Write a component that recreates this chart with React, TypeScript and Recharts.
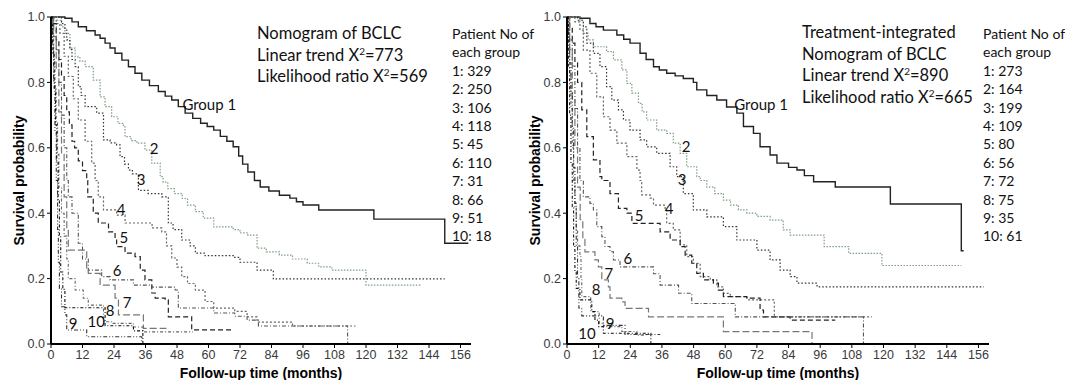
import React from "react";
import { LineChart, Line, XAxis, YAxis, ReferenceDot } from "recharts";

// survival curves, [month, survival probability]
const left1 = [[0,1],[3.4,1],[5.3,0.996],[8,0.985],[10.4,0.97],[13.5,0.958],[16.8,0.945],[18.7,0.935],[20.6,0.92],[22.5,0.905],[24.4,0.889],[27,0.868],[29.5,0.848],[32,0.828],[34.6,0.807],[37.5,0.79],[40.9,0.772],[43.5,0.758],[46,0.746],[48.5,0.726],[51.1,0.706],[54,0.69],[57,0.675],[59.5,0.665],[62,0.654],[64.5,0.635],[67,0.62],[69.4,0.603],[71.5,0.575],[73,0.55],[75,0.526],[77.5,0.5],[79.7,0.48],[83,0.468],[87,0.455],[91,0.446],[93.5,0.435],[96,0.425],[102,0.41],[123,0.382],[150,0.308],[159,0.308]];
const left2 = [[0,1],[2.5,0.99],[4,0.97],[5.3,0.95],[7.2,0.905],[9.2,0.878],[11,0.865],[13,0.848],[16.1,0.807],[18.7,0.756],[20.6,0.726],[23.1,0.695],[25.5,0.675],[27.6,0.664],[28.2,0.634],[30.5,0.622],[32.7,0.614],[35.8,0.593],[38.4,0.553],[41.6,0.512],[42.7,0.495],[44.5,0.475],[47,0.46],[50,0.445],[52,0.425],[55,0.405],[58,0.385],[62,0.358],[69.4,0.35],[72,0.34],[75,0.333],[78.5,0.293],[82,0.282],[87,0.272],[92,0.26],[97.6,0.247],[102,0.236],[107,0.226],[120,0.18],[141,0.18]];
const left3 = [[0,1],[4,0.98],[5.3,0.96],[6,0.93],[7.2,0.9],[8,0.87],[9.2,0.848],[10.4,0.787],[11.5,0.76],[13,0.726],[17.4,0.706],[20,0.624],[22.5,0.615],[25,0.609],[26.3,0.573],[28,0.55],[29.5,0.532],[31,0.52],[33.3,0.47],[37,0.46],[42.2,0.45],[44.7,0.37],[46.5,0.35],[49.8,0.318],[53,0.3],[55,0.278],[58.7,0.27],[69.4,0.265],[72,0.25],[78.5,0.226],[84.7,0.199],[150,0.199]];
const left4 = [[0,1],[2,0.98],[3.4,0.95],[5,0.88],[6.6,0.818],[8.5,0.75],[10.4,0.685],[13,0.62],[15.5,0.553],[16.8,0.5],[18,0.45],[20,0.41],[25,0.394],[28.2,0.37],[38.5,0.355],[42.2,0.343],[44,0.3],[46,0.263],[48,0.235],[49.8,0.206],[52,0.185],[55,0.165],[58.7,0.13],[62,0.11],[70,0.1],[74.7,0.083],[78.5,0.067],[92,0.055],[116,0.055]];
const left5 = [[0,1],[1,0.98],[2,0.93],[3,0.87],[4,0.82],[5,0.76],[6,0.71],[7,0.67],[8,0.62],[9,0.6],[10.4,0.56],[12,0.53],[13.6,0.5],[14,0.45],[16.1,0.4],[18,0.37],[21.9,0.343],[24.4,0.324],[25,0.298],[28.2,0.278],[32,0.267],[34,0.226],[35.8,0.196],[38.4,0.156],[39.7,0.14],[43.5,0.135],[44.7,0.083],[53.6,0.043],[69.4,0.043]];
const left6 = [[0,1],[1,0.97],[2,0.9],[3,0.8],[4,0.7],[5,0.6],[6,0.5],[6.6,0.45],[8,0.4],[10.4,0.308],[12,0.26],[14.2,0.226],[19.3,0.206],[22.5,0.196],[31.4,0.18],[38.4,0.174],[47.3,0.165],[48.5,0.11],[62,0.095],[70,0.085],[74.7,0.073],[79,0.055],[113,0]];
const left7 = [[0,1],[1,0.94],[2,0.84],[3,0.71],[4,0.58],[5,0.45],[6,0.35],[6.6,0.287],[13.6,0.232],[14.2,0.216],[18.7,0.18],[24.4,0.14],[25.7,0.089],[35.2,0.048],[44,0.048]];
const left8 = [[0,1],[0.5,0.95],[1,0.87],[1.5,0.78],[2,0.68],[2.5,0.58],[3,0.48],[4,0.4],[5,0.33],[6,0.26],[6.6,0.2],[9.2,0.165],[12.3,0.14],[14.2,0.119],[20,0.068],[23.1,0.063],[31.4,0.052],[35,0.037],[54,0.037]];
const left9 = [[0,1],[0.5,0.92],[1,0.8],[1.5,0.65],[2,0.5],[2.5,0.35],[2.8,0.25],[3.2,0.17],[4,0.114],[5.3,0.089],[6,0.043],[13.6,0.022],[34.6,0]];
const left10 = [[0,1],[0.7,0.89],[1.2,0.78],[1.7,0.67],[2.2,0.56],[2.7,0.44],[3.2,0.33],[3.7,0.22],[4.5,0.167],[5.3,0.111],[20.6,0.056],[31.4,0.04],[35,0]];

const right1 = [[0,1],[3,1],[4.9,0.996],[8.7,0.98],[11,0.97],[13.8,0.96],[18.9,0.945],[21.5,0.932],[23.9,0.92],[27.7,0.889],[30,0.87],[32.8,0.848],[35,0.838],[37.8,0.828],[41,0.82],[44.1,0.812],[47.9,0.8],[49.2,0.777],[53,0.76],[56.8,0.746],[60.5,0.725],[64.4,0.706],[66.9,0.665],[70.7,0.644],[73.2,0.603],[77,0.578],[79.6,0.553],[84,0.54],[87.2,0.532],[90,0.515],[93.5,0.496],[101.7,0.48],[122.6,0.428],[149.5,0.285],[150.4,0.285]];
const right2 = [[0,1],[3,1],[4.9,0.99],[6.2,0.95],[8,0.93],[10,0.909],[15,0.894],[17.6,0.869],[20.8,0.838],[22.7,0.797],[24.6,0.767],[27.1,0.736],[28.5,0.71],[30.2,0.685],[34,0.654],[37.8,0.644],[40.3,0.614],[42.9,0.583],[45.4,0.542],[49.2,0.512],[50.5,0.5],[53,0.48],[56,0.46],[59.3,0.44],[62,0.425],[65,0.41],[68.2,0.4],[72,0.39],[77,0.379],[82,0.349],[84.6,0.333],[97.5,0.298],[106.8,0.277],[119.4,0.24],[149.5,0.24]];
const right3 = [[0,1],[4,0.99],[6.2,0.97],[7.5,0.92],[10,0.889],[12.5,0.848],[15,0.787],[17,0.746],[19.5,0.716],[21.4,0.685],[23.9,0.654],[27.7,0.624],[30.2,0.603],[34,0.583],[39.1,0.542],[41.6,0.512],[44.1,0.46],[47.9,0.41],[53,0.389],[59.3,0.359],[64.4,0.318],[72,0.287],[77,0.257],[80.8,0.226],[84.6,0.206],[87.2,0.186],[94.8,0.175],[158,0.175]];
const right4 = [[0,1],[3,0.985],[4.9,0.96],[6.2,0.899],[8.7,0.828],[11.3,0.756],[13.8,0.695],[16.3,0.654],[18.9,0.614],[22.7,0.573],[26.5,0.532],[27.7,0.5],[28.3,0.456],[31.5,0.446],[32.8,0.425],[37.2,0.41],[37.8,0.369],[40.3,0.349],[42.9,0.303],[45.4,0.267],[47.9,0.247],[50.5,0.206],[54.3,0.196],[56.8,0.175],[59.3,0.155],[61.9,0.145],[68.2,0.135],[78.6,0.083],[115.6,0.083]];
const right5 = [[0,1],[1,0.97],[2,0.92],[3,0.86],[4,0.8],[5.6,0.716],[7.5,0.634],[10,0.563],[12.5,0.512],[13.2,0.5],[16.3,0.46],[19.5,0.415],[22.7,0.4],[24.6,0.369],[35.3,0.343],[39.1,0.318],[42.9,0.298],[44.8,0.272],[47.3,0.247],[49.2,0.216],[51.7,0.196],[55.5,0.186],[57.4,0.165],[59.3,0.145],[68.2,0.14],[73.2,0.104],[74.5,0.083],[84.6,0.073],[101.7,0.073]];
const right6 = [[0,1],[1,0.93],[2,0.85],[3,0.72],[4,0.6],[4.9,0.5],[6.2,0.45],[8.7,0.43],[10,0.41],[11.3,0.359],[13.2,0.328],[14.4,0.298],[16.3,0.282],[17.6,0.257],[20.1,0.236],[32.8,0.215],[35.3,0.18],[42.3,0.155],[47.3,0.124],[63.8,0.083],[112.4,0]];
const right7 = [[0,1],[1,0.9],[2,0.75],[3,0.6],[4,0.48],[5,0.38],[6,0.32],[6.8,0.282],[10.6,0.257],[11.9,0.236],[13.2,0.196],[15.7,0.175],[16.3,0.14],[20.8,0.129],[22,0.109],[30.9,0.083],[59.3,0.038],[92.9,0]];
const right8 = [[0,1],[0.5,0.93],[1,0.83],[1.5,0.72],[2,0.6],[2.5,0.5],[3,0.42],[3.5,0.35],[4,0.3],[4.9,0.267],[5.3,0.2],[5.6,0.145],[9,0.099],[12.2,0.063],[13.8,0.053],[20.8,0.038],[26.5,0.027],[30,0.027]];
const right9 = [[0,1],[0.5,0.94],[1,0.86],[1.5,0.77],[2,0.66],[2.5,0.54],[3,0.43],[3.5,0.3],[4,0.2],[4.5,0.11],[5.6,0.086],[13.8,0.057],[22,0.029],[35.3,0.029]];
const right10 = [[0,1],[0.5,0.85],[1,0.7],[1.5,0.55],[2,0.42],[2.5,0.3],[3,0.22],[3.5,0.17],[4.9,0.135],[9.4,0.099],[10.6,0.073],[12,0.053],[13.8,0.033],[31.8,0]];

// curve labels: text, month, survival
const leftLabels = [["Group 1",60.3,0.731],["2",39.3,0.596],["3",34.3,0.502],["4",26.7,0.41],["5",27.8,0.324],["6",25.2,0.223],["7",29,0.125],["8",22.5,0.101],["9",8.4,0.061],["10",17.2,0.067]];
const rightLabels = [["Group 1",73.6,0.731],["2",45.2,0.602],["3",43.6,0.502],["4",38.7,0.413],["5",27.3,0.391],["6",23.1,0.26],["7",15.9,0.214],["8",11,0.165],["9",16.3,0.061],["10",7.6,0.031]];

const leftCounts = ["1: 329","2: 250","3: 106","4: 118","5: 45","6: 110","7: 31","8: 66","9: 51","10: 18"];
const rightCounts = ["1: 273","2: 164","3: 199","4: 109","5: 80","6: 56","7: 72","8: 75","9: 35","10: 61"];

const monthTicks = [0,12,24,36,48,60,72,84,96,108,120,132,144,156];
const probTicks = [0,0.2,0.4,0.6,0.8,1.0];

const styles = [
  { stroke: "#222", width: 1.4, dash: undefined },
  { stroke: "#7f9e84", width: 1.2, dash: "1.5 1.5" },
  { stroke: "#333", width: 1.2, dash: "1.5 2" },
  { stroke: "#666", width: 1.2, dash: "2 2" },
  { stroke: "#222", width: 1.2, dash: "5 3" },
  { stroke: "#555", width: 1.1, dash: "4 2 1 2" },
  { stroke: "#777", width: 1.2, dash: "7 3" },
  { stroke: "#666", width: 1.1, dash: "3 2 1 2" },
  { stroke: "#333", width: 1.1, dash: "4 2 1 2 1 2" },
  { stroke: "#111", width: 1.1, dash: "3 2 1 2" },
];

const tickFont = '"Liberation Sans", Arial, sans-serif';
const textFont = 'Lato, "Open Sans", sans-serif';

const toPts = (arr: number[][]) => arr.map(([t, s]) => ({ t, s }));

const XTitle = (props: any) => {
  const { viewBox } = props;
  return <text x={viewBox.x + viewBox.width / 2} y={viewBox.y + 29} textAnchor="middle" dominantBaseline="central"
    fontFamily={tickFont} fontWeight="bold" fontSize={14} fill="#000">Follow-up time (months)</text>;
};

const YTitle = (props: any) => {
  const { viewBox } = props;
  const cx = 19;
  const cy = viewBox.y + viewBox.height / 2;
  return <text x={cx} y={cy} transform={`rotate(-90 ${cx} ${cy})`} textAnchor="middle" dominantBaseline="central"
    fontFamily={tickFont} fontWeight="bold" fontSize={14} fill="#000">Survival probability</text>;
};

function Panel(props: { series: number[][][], labels: any[], left: number, plotW: number }) {
  const { series, labels, left, plotW } = props;
  return (
    <div style={{ position: "absolute", left, top: 0 }}>
      <LineChart width={51 + plotW + 6} height={380} margin={{ top: 17, right: 6, bottom: 0, left: 0 }}>
        <XAxis dataKey="t" type="number" domain={[0, 160]} ticks={monthTicks} allowDataOverflow interval={0}
          height={36} tickSize={4} tick={{ fontSize: 12.5, fill: "#3a3a3a", fontFamily: tickFont }}
          tickLine={{ stroke: "#000" }} axisLine={{ stroke: "#000", strokeWidth: 2 }} label={<XTitle />} />
        <YAxis type="number" domain={[0, 1]} ticks={probTicks} interval={0} width={51} tickSize={4}
          tickFormatter={(v: number) => v.toFixed(1)} tick={{ fontSize: 12.5, fill: "#3a3a3a", fontFamily: tickFont }}
          tickLine={{ stroke: "#000" }} axisLine={{ stroke: "#000", strokeWidth: 2 }} label={<YTitle />} />
        {series.map((s, i) => (
          <Line key={i} data={toPts(s)} dataKey="s" type="stepAfter" stroke={styles[i].stroke}
            strokeWidth={styles[i].width} strokeDasharray={styles[i].dash} dot={false}
            isAnimationActive={false} />
        ))}
        {labels.map(([txt, t, s]) => (
          <ReferenceDot key={txt} x={t} y={s} r={1} fill="none" stroke="none"
            label={{ value: txt, position: "center", fill: "#111", fontSize: 15, fontFamily: textFont }} />
        ))}
      </LineChart>
    </div>
  );
}

const Counts = (props: { items: string[], left: number }) => (
  <div style={{ position: "absolute", left: props.left, top: 25, fontFamily: textFont, fontSize: 14, lineHeight: "18.4px", color: "#111", whiteSpace: "nowrap" }}>
    <div>Patient No of</div>
    <div>each group</div>
    {props.items.map(c => <div key={c}>{c}</div>)}
  </div>
);

const sup = { fontSize: 10, verticalAlign: "super", lineHeight: 0 } as React.CSSProperties;

export default function App() {
  const leftSeries = [left1, left2, left3, left4, left5, left6, left7, left8, left9, left10];
  const rightSeries = [right1, right2, right3, right4, right5, right6, right7, right8, right9, right10];
  return (
    <div style={{ position: "absolute", left: 0, top: 0, width: 1065, height: 380, background: "#fff", overflow: "hidden" }}>
      <Panel series={leftSeries} labels={leftLabels} left={0} plotW={420} />
      <Panel series={rightSeries} labels={rightLabels} left={516} plotW={422} />
      <div style={{ position: "absolute", left: 257, top: 23, fontFamily: textFont, fontSize: 16.5, lineHeight: "21.5px", color: "#111", whiteSpace: "nowrap" }}>
        <div>Nomogram of BCLC</div>
        <div>Linear trend X<span style={sup}>2</span>=773</div>
        <div>Likelihood ratio X<span style={sup}>2</span>=569</div>
      </div>
      <div style={{ position: "absolute", left: 802, top: 22, fontFamily: textFont, fontSize: 16.5, lineHeight: "21.5px", color: "#111", whiteSpace: "nowrap" }}>
        <div>Treatment-integrated</div>
        <div>Nomogram of BCLC</div>
        <div>Linear trend X<span style={sup}>2</span>=890</div>
        <div>Likelihood ratio X<span style={sup}>2</span>=665</div>
      </div>
      <Counts items={leftCounts} left={452} />
      <Counts items={rightCounts} left={983} />
    </div>
  );
}
